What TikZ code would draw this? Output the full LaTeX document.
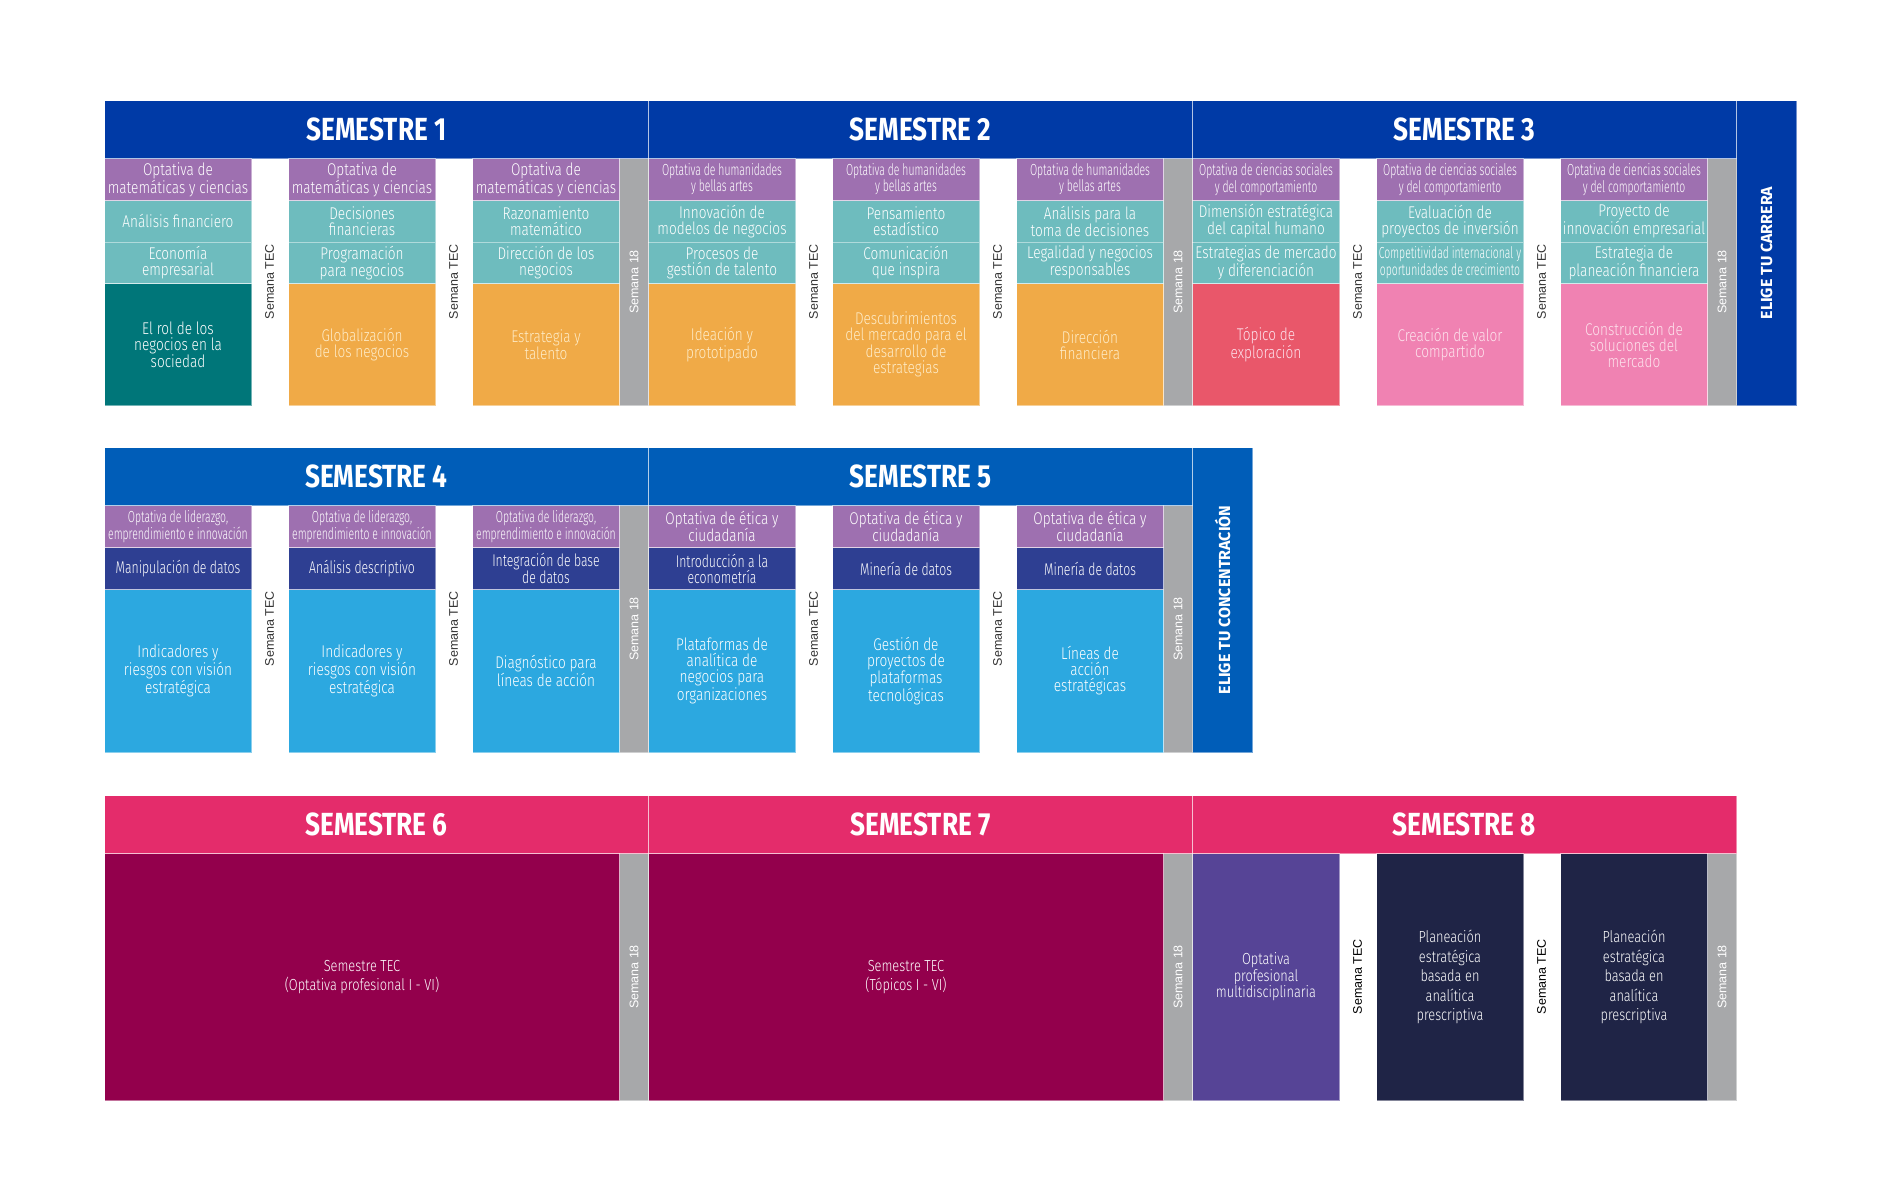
\documentclass[tikz,border=0pt]{standalone}
\usepackage{fontspec}
\usepackage{color}
\usepackage{tikz}
\setmainfont{Fira Sans}
\newfontfamily\hdf{Fira Sans}[FakeStretch=0.82]
\newfontfamily\condf{Fira Sans Light}[FakeStretch=0.8]
\newfontfamily\midf{Fira Sans Light}[FakeStretch=0.72]
\newfontfamily\narrf{Fira Sans Light}[FakeStretch=0.65]
\newfontfamily\wkf{Liberation Sans}

\definecolor{hdone}{RGB}{0,58,166}
\definecolor{hdtwo}{RGB}{0,93,184}
\definecolor{hdthree}{RGB}{228,44,107}
\definecolor{optcol}{RGB}{158,112,176}
\definecolor{crscol}{RGB}{110,188,190}
\definecolor{darkteal}{RGB}{0,118,121}
\definecolor{orangecol}{RGB}{240,170,71}
\definecolor{graycol}{RGB}{167,168,170}
\definecolor{redcol}{RGB}{233,87,106}
\definecolor{pinkcol}{RGB}{240,130,178}
\definecolor{navycol}{RGB}{46,63,146}
\definecolor{skycol}{RGB}{44,168,224}
\definecolor{wine}{RGB}{147,0,76}
\definecolor{violetcol}{RGB}{86,68,150}
\definecolor{nightcol}{RGB}{31,36,70}
\definecolor{creamtxt}{RGB}{254,236,200}
\definecolor{blushtxt}{RGB}{253,226,236}

\begin{document}
\begin{tikzpicture}[x=1pt, y=-1pt,
    line/.style={draw=white, draw opacity=.45, line width=1pt},
    hd/.style={line, anchor=north west, inner sep=0pt, minimum width=544pt, minimum height=58pt, text=white, font=\hdf\bfseries\fontsize{32}{32}\selectfont},
    cell/.style={line, anchor=north west, inner sep=0pt, minimum width=147pt, align=center, text=white, font=\condf\fontsize{17}{16}\selectfont},
    opt/.style={cell, fill=optcol, minimum height=42pt},
    narr/.style={font=\narrf\fontsize{16}{13.5}\selectfont},
    crs/.style={cell, fill=crscol, minimum height=41.5pt},
    dat/.style={cell, fill=navycol, minimum height=42pt, font=\midf\fontsize{17}{16}\selectfont},
    big/.style={cell, minimum height=122pt},
    tall/.style={cell, fill=skycol, minimum height=163pt},
    wk/.style={line, anchor=north west, inner sep=0pt, minimum width=29pt, minimum height=247pt, fill=graycol, label={[rotate=90, text=white, font=\wkf\fontsize{12.5}{12.5}\selectfont]center:Semana 18}},
    tec/.style={rotate=90, text=black!80, font=\wkf\fontsize{12.5}{12.5}\selectfont},
    elige/.style={line, anchor=north west, inner sep=0pt, minimum width=60pt, minimum height=305pt},
    eligetxt/.style={rotate=90, text=white, font=\bfseries\fontsize{16}{16}\selectfont}]

    \useasboundingbox (0,0) rectangle (1900,1200);

    \node[hd, fill=hdone] (s1) at (104,100) {SEMESTRE 1};
    \node[hd, fill=hdone] (s2) at (648,100) {SEMESTRE 2};
    \node[hd, fill=hdone] (s3) at (1192,100) {SEMESTRE 3};
    \node[elige, fill=hdone, label={[eligetxt]center:ELIGE TU CARRERA}] (carrera) at (1736,100) {};

    \node[opt] (s1ao) at (104,158) {Optativa de\\matemáticas y ciencias};
    \node[crs] (s1a1) at (104,200) {Análisis financiero};
    \node[crs] (s1a2) at (104,241.5) {Economía\\empresarial};
    \node[big, fill=darkteal] (s1ab) at (104,283) {El rol de los\\negocios en la\\sociedad};
    \node[tec] (s1t1) at (269.5,281.5) {Semana TEC};
    \node[opt] (s1bo) at (288,158) {Optativa de\\matemáticas y ciencias};
    \node[crs] (s1b1) at (288,200) {Decisiones\\financieras};
    \node[crs] (s1b2) at (288,241.5) {Programación\\para negocios};
    \node[big, fill=orangecol, text=creamtxt] (s1bb) at (288,283) {Globalización\\de los negocios};
    \node[tec] (s1t2) at (453.5,281.5) {Semana TEC};
    \node[opt] (s1co) at (472,158) {Optativa de\\matemáticas y ciencias};
    \node[crs] (s1c1) at (472,200) {Razonamiento\\matemático};
    \node[crs] (s1c2) at (472,241.5) {Dirección de los\\negocios};
    \node[big, fill=orangecol, text=creamtxt] (s1cb) at (472,283) {Estrategia y\\talento};
    \node[wk] (s1w) at (619,158) {};

    \node[opt, narr] (s2ao) at (648,158) {Optativa de humanidades\\y bellas artes};
    \node[crs] (s2a1) at (648,200) {Innovación de\\modelos de negocios};
    \node[crs] (s2a2) at (648,241.5) {Procesos de\\gestión de talento};
    \node[big, fill=orangecol, text=creamtxt] (s2ab) at (648,283) {Ideación y\\prototipado};
    \node[tec] (s2t1) at (813.5,281.5) {Semana TEC};
    \node[opt, narr] (s2bo) at (832,158) {Optativa de humanidades\\y bellas artes};
    \node[crs] (s2b1) at (832,200) {Pensamiento\\estadístico};
    \node[crs] (s2b2) at (832,241.5) {Comunicación\\que inspira};
    \node[big, fill=orangecol, text=creamtxt] (s2bb) at (832,283) {Descubrimientos\\del mercado para el\\desarrollo de\\estrategias};
    \node[tec] (s2t2) at (997.5,281.5) {Semana TEC};
    \node[opt, narr] (s2co) at (1016,158) {Optativa de humanidades\\y bellas artes};
    \node[crs] (s2c1) at (1016,200) {Análisis para la\\toma de decisiones};
    \node[crs] (s2c2) at (1016,241.5) {Legalidad y negocios\\responsables};
    \node[big, fill=orangecol, text=creamtxt] (s2cb) at (1016,283) {Dirección\\financiera};
    \node[wk] (s2w) at (1163,158) {};

    \node[opt, narr] (s3ao) at (1192,158) {Optativa de ciencias sociales\\y del comportamiento};
    \node[crs] (s3a1) at (1192,200) {Dimensión estratégica\\del capital humano};
    \node[crs] (s3a2) at (1192,241.5) {Estrategias de mercado\\y diferenciación};
    \node[big, fill=redcol, text=blushtxt] (s3ab) at (1192,283) {Tópico de\\exploración};
    \node[tec] (s3t1) at (1357.5,281.5) {Semana TEC};
    \node[opt, narr] (s3bo) at (1376,158) {Optativa de ciencias sociales\\y del comportamiento};
    \node[crs] (s3b1) at (1376,200) {Evaluación de\\proyectos de inversión};
    \node[crs, narr] (s3b2) at (1376,241.5) {Competitividad internacional y\\oportunidades de crecimiento};
    \node[big, fill=pinkcol, text=blushtxt] (s3bb) at (1376,283) {Creación de valor\\compartido};
    \node[tec] (s3t2) at (1541.5,281.5) {Semana TEC};
    \node[opt, narr] (s3co) at (1560,158) {Optativa de ciencias sociales\\y del comportamiento};
    \node[crs] (s3c1) at (1560,200) {Proyecto de\\innovación empresarial};
    \node[crs] (s3c2) at (1560,241.5) {Estrategia de\\planeación financiera};
    \node[big, fill=pinkcol, text=blushtxt] (s3cb) at (1560,283) {Construcción de\\soluciones del\\mercado};
    \node[wk] (s3w) at (1707,158) {};

    \node[hd, fill=hdtwo] (s4) at (104,447) {SEMESTRE 4};
    \node[hd, fill=hdtwo] (s5) at (648,447) {SEMESTRE 5};
    \node[elige, fill=hdtwo, label={[eligetxt]center:ELIGE TU CONCENTRACIÓN}] (concentracion) at (1192,447) {};

    \node[opt, narr] (s4ao) at (104,505) {Optativa de liderazgo,\\emprendimiento e innovación};
    \node[dat] (s4a1) at (104,547) {Manipulación de datos};
    \node[tall] (s4ab) at (104,589) {Indicadores y\\riesgos con visión\\estratégica};
    \node[tec] (s4t1) at (269.5,628.5) {Semana TEC};
    \node[opt, narr] (s4bo) at (288,505) {Optativa de liderazgo,\\emprendimiento e innovación};
    \node[dat] (s4b1) at (288,547) {Análisis descriptivo};
    \node[tall] (s4bb) at (288,589) {Indicadores y\\riesgos con visión\\estratégica};
    \node[tec] (s4t2) at (453.5,628.5) {Semana TEC};
    \node[opt, narr] (s4co) at (472,505) {Optativa de liderazgo,\\emprendimiento e innovación};
    \node[dat] (s4c1) at (472,547) {Integración de base\\de datos};
    \node[tall] (s4cb) at (472,589) {Diagnóstico para\\líneas de acción};
    \node[wk] (s4w) at (619,505) {};

    \node[opt] (s5ao) at (648,505) {Optativa de ética y\\ciudadanía};
    \node[dat] (s5a1) at (648,547) {Introducción a la\\econometría};
    \node[tall] (s5ab) at (648,589) {Plataformas de\\analítica de\\negocios para\\organizaciones};
    \node[tec] (s5t1) at (813.5,628.5) {Semana TEC};
    \node[opt] (s5bo) at (832,505) {Optativa de ética y\\ciudadanía};
    \node[dat] (s5b1) at (832,547) {Minería de datos};
    \node[tall] (s5bb) at (832,589) {Gestión de\\proyectos de\\plataformas\\tecnológicas};
    \node[tec] (s5t2) at (997.5,628.5) {Semana TEC};
    \node[opt] (s5co) at (1016,505) {Optativa de ética y\\ciudadanía};
    \node[dat] (s5c1) at (1016,547) {Minería de datos};
    \node[tall] (s5cb) at (1016,589) {Líneas de\\acción\\estratégicas};
    \node[wk] (s5w) at (1163,505) {};

    \node[hd, fill=hdthree] (s6) at (104,795) {SEMESTRE 6};
    \node[hd, fill=hdthree] (s7) at (648,795) {SEMESTRE 7};
    \node[hd, fill=hdthree] (s8) at (1192,795) {SEMESTRE 8};

    \node[cell, fill=wine, minimum width=515pt, minimum height=247pt, font=\condf\fontsize{16}{19.5}\selectfont] (s6b) at (104,853) {Semestre TEC\\(Optativa profesional I - VI)};
    \node[wk] (s6w) at (619,853) {};
    \node[cell, fill=wine, minimum width=515pt, minimum height=247pt, font=\condf\fontsize{16}{19.5}\selectfont] (s7b) at (648,853) {Semestre TEC\\(Tópicos I - VI)};
    \node[wk] (s7w) at (1163,853) {};

    \node[cell, fill=violetcol, minimum height=247pt, font=\condf\fontsize{16}{16.5}\selectfont] (s8a) at (1192,853) {Optativa\\profesional\\multidisciplinaria};
    \node[tec, text=black] (s8t1) at (1357.5,976.5) {Semana TEC};
    \node[cell, fill=nightcol, minimum height=247pt, font=\condf\fontsize{16}{19.5}\selectfont] (s8b) at (1376,853) {Planeación\\estratégica\\basada en\\analítica\\prescriptiva};
    \node[tec, text=black] (s8t2) at (1541.5,976.5) {Semana TEC};
    \node[cell, fill=nightcol, minimum height=247pt, font=\condf\fontsize{16}{19.5}\selectfont] (s8c) at (1560,853) {Planeación\\estratégica\\basada en\\analítica\\prescriptiva};
    \node[wk] (s8w) at (1707,853) {};

\end{tikzpicture}
\end{document}
